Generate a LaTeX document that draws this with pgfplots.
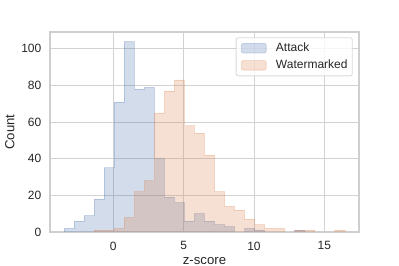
\documentclass[border=0pt]{standalone}
\usepackage{pgfplots}
\pgfplotsset{compat=1.18}
\usepackage{pgfplotstable}
\usepackage{fontspec}
\setmainfont{Liberation Sans}
\definecolor{sbblue}{HTML}{4C72B0}
\definecolor{sborange}{HTML}{DD8452}
\definecolor{gridgray}{HTML}{D2D2D2}
\definecolor{framegray}{HTML}{CFCFCF}
\definecolor{textgray}{HTML}{262626}

\pgfplotstableread{
x y
-3.5000 2
-2.7868 6
-2.0736 9
-1.3604 18
-0.6472 35
0.0660 71
0.7792 104
1.4924 78
2.2056 79
2.9188 40
3.6320 19
4.3452 16
5.0584 6
5.7716 10
6.4848 6
7.1980 4
7.9112 3
8.6244 0
9.3376 2
10.0508 1
10.7640 0
11.4772 0
12.1904 0
12.9036 1
13.6168 1
}\attack

\pgfplotstableread{
x y
-1.3604 1
-0.6472 1
0.0660 2
0.7792 8
1.4924 22
2.2056 28
2.9188 65
3.6320 77
4.3452 83
5.0584 58
5.7716 54
6.4848 42
7.1980 22
7.9112 14
8.6244 12
9.3376 7
10.0508 4
10.7640 2
11.4772 2
12.1904 0
12.9036 1
13.6168 1
14.3300 0
15.0432 0
15.7564 1
16.4696 1
}\watermarked

\begin{document}
\begin{tikzpicture}
\useasboundingbox (-50bp,-34bp) rectangle (349bp,232bp);
\begin{axis}[
  scale only axis, width=309bp, height=200bp,
  xmin=-4.5, xmax=17.47, ymin=0, ymax=109.2,
  xtick={0,5,10,15}, ytick={0,20,40,60,80,100},
  major tick length=0pt,
  grid=major,
  major grid style={draw=gridgray, line width=0.85bp},
  axis line style={draw=framegray, line width=1.2bp},
  /pgf/number format/assume math mode=true,
  ticklabel style={font=\fontsize{12bp}{14bp}\selectfont, text=textgray, inner sep=0pt},
  xticklabel style={yshift=-9.5bp},
  yticklabel style={xshift=-8.5bp},
  xlabel={z-score}, ylabel={Count},
  xlabel style={at={(axis description cs:0.5,-0.163)}, anchor=base, font=\fontsize{13.2bp}{15bp}\selectfont, text=textgray, inner sep=0pt},
  ylabel style={at={(axis description cs:-0.1149,0.5)}, anchor=base, font=\fontsize{13.2bp}{15bp}\selectfont, text=textgray, inner sep=0pt},
  legend cell align=left,
  legend image code/.code={\path[#1] (0bp,-4.8bp) rectangle (25bp,4.8bp);},
  legend style={at={(axis description cs:0.9796,0.9735)}, anchor=north east,
    draw=gridgray, fill=white, fill opacity=0.8, draw opacity=0.8, text opacity=1,
    rounded corners=2bp, line width=0.9bp,
    font=\fontsize{12bp}{14bp}\selectfont, text=textgray,
    inner xsep=4.7bp, inner ysep=3.4bp, row sep=2.9bp,
    nodes={inner xsep=0bp, inner ysep=2bp},
    /tikz/every odd column/.append style={column sep=9.3bp}},
]
\addplot[const plot mark left, draw=sbblue, fill=sbblue, fill opacity=0.25, draw opacity=0.25, line width=0.8bp] table {\attack} \closedcycle;
\addlegendentry{Attack}
\addplot[const plot mark left, draw=sborange, fill=sborange, fill opacity=0.25, draw opacity=0.25, line width=0.8bp] table {\watermarked} \closedcycle;
\addlegendentry{Watermarked}
\end{axis}
\end{tikzpicture}
\end{document}
